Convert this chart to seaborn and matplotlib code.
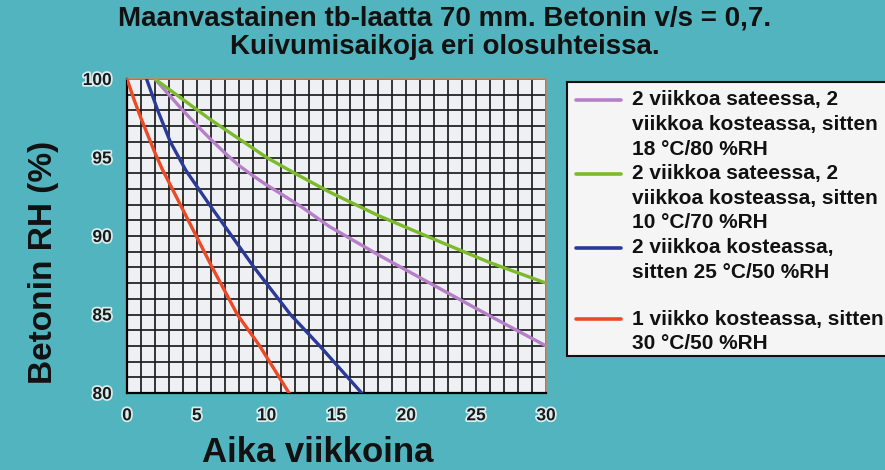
import matplotlib
matplotlib.use("Agg")
import matplotlib.pyplot as plt
import matplotlib.patheffects as pe
from matplotlib.lines import Line2D
from matplotlib.patches import Rectangle
import numpy as np
import pandas as pd
import seaborn as sns

# ---- data ----
purple_x = [2.0, 3.0, 4.0, 5.0, 6.0, 7.0, 8.0, 9.0, 10.0, 11.0, 12.5, 14.5, 18.0, 22.5, 26.0, 30.0]
purple_y = [100.0, 99.0, 98.0, 97.05, 96.15, 95.3, 94.5, 93.85, 93.25, 92.7, 91.85, 90.6, 88.8, 86.6, 84.9, 83.0]
green_x = [2.0, 4.0, 6.0, 8.0, 10.0, 12.0, 14.5, 18.0, 22.5, 26.0, 30.0]
green_y = [100.0, 98.7, 97.4, 96.2, 95.0, 94.0, 92.8, 91.3, 89.6, 88.3, 87.0]
blue_x = [1.4, 2.2, 3.1, 4.2, 5.9, 7.5, 9.1, 11.7, 13.8, 15.8, 16.8]
blue_y = [100.0, 98.0, 96.0, 94.2, 92.0, 90.0, 88.0, 85.0, 83.0, 81.0, 80.0]
red_x = [0.0, 0.5, 1.0, 1.5, 2.0, 2.5, 3.7, 4.9, 6.1, 7.9, 9.5, 10.9, 11.6]
red_y = [100.0, 98.7, 97.5, 96.4, 95.3, 94.3, 92.2, 90.1, 88.0, 85.0, 83.0, 81.0, 80.0]

series_labels = [
    ["2 viikkoa sateessa, 2", "viikkoa kosteassa, sitten", "18 °C/80 %RH"],
    ["2 viikkoa sateessa, 2", "viikkoa kosteassa, sitten", "10 °C/70 %RH"],
    ["2 viikkoa kosteassa,", "sitten 25 °C/50 %RH"],
    ["1 viikko kosteassa, sitten", "30 °C/50 %RH"],
]
x_ticks = [0, 5, 10, 15, 20, 25, 30]
y_ticks = [80, 85, 90, 95, 100]
title_lines = ["Maanvastainen tb-laatta 70 mm. Betonin v/s = 0,7.",
               "Kuivumisaikoja eri olosuhteissa."]
x_label = "Aika viikkoina"
y_label = "Betonin RH (%)"

colors = ["#b57fc9", "#7cba2c", "#2b3a98", "#ec4a26"]
TEAL = "#52b4bf"

sns.set_style("white")
plt.rcParams["font.family"] = ["Liberation Sans", "DejaVu Sans"]

frames = []
for i, (xs, ys) in enumerate([(purple_x, purple_y), (green_x, green_y),
                              (blue_x, blue_y), (red_x, red_y)]):
    frames.append(pd.DataFrame({"viikko": xs, "RH": ys, "sarja": i}))
df = pd.concat(frames, ignore_index=True)

W, H = 885, 470
fig = plt.figure(figsize=(W / 100, H / 100), dpi=100, facecolor=TEAL)
x0, x1, ytop, ybot = 127, 546, 79, 393
ax = fig.add_axes([x0 / W, 1 - ybot / H, (x1 - x0) / W, (ybot - ytop) / H])
ax.set_facecolor("#eef0f3")

sns.lineplot(data=df, x="viikko", y="RH", hue="sarja",
             palette={i: c for i, c in enumerate(colors)},
             sort=False, estimator=None, legend=False, lw=2.4, ax=ax, zorder=3)

ax.set_xlim(0, 30)
ax.set_ylim(80, 100)
ax.set_xticks(x_ticks)
ax.set_yticks(y_ticks)
ax.set_xticks(np.arange(0, 31, 1), minor=True)
ax.set_yticks(np.arange(80, 101, 1), minor=True)
ax.set_axisbelow(True)
ax.grid(which="both", color="#1c1c1c", lw=1.25)
ax.tick_params(which="minor", length=0)
ax.tick_params(which="major", length=5, width=1.5, color="black", direction="out", pad=6)
ax.set_xlabel("")
ax.set_ylabel("")
halo = [pe.withStroke(linewidth=2.5, foreground="#d9eef0")]
for lab in ax.get_xticklabels() + ax.get_yticklabels():
    lab.set_fontsize(12.5)
    lab.set_fontweight("bold")
    lab.set_color("#1a1a1a")
    lab.set_path_effects(halo)
for s in ["left", "bottom"]:
    ax.spines[s].set_color("black")
    ax.spines[s].set_linewidth(1.6)
for s in ["top", "right"]:
    ax.spines[s].set_color("#c08868")
    ax.spines[s].set_linewidth(1.2)

# titles and axis labels
fig.text(445 / W, 1 - 19 / H, title_lines[0], ha="center", va="center",
         fontsize=20, fontweight="bold", color="#111111")
fig.text(445 / W, 1 - 47 / H, title_lines[1], ha="center", va="center",
         fontsize=20, fontweight="bold", color="#111111")
fig.text(44 / W, 1 - 262 / H, y_label, rotation=90, ha="center", va="center",
         fontsize=24, fontweight="bold", color="#111111")
fig.text(318 / W, 1 - 462 / H, x_label, ha="center", va="baseline",
         fontsize=25, fontweight="bold", color="#111111")

# legend box
lx0, ly0, lx1, ly1 = 567, 82, 895, 356
fig.add_artist(Rectangle((lx0 / W, 1 - ly1 / H), (lx1 - lx0) / W, (ly1 - ly0) / H,
                         transform=fig.transFigure, facecolor="#f5f5f5",
                         edgecolor="#111111", lw=1.5, zorder=1))
first_line_y = [100, 174, 248, 319]
line_gap = 24.5
for c, lines, yy in zip(colors, series_labels, first_line_y):
    fig.add_artist(Line2D([576 / W, 621 / W], [1 - yy / H, 1 - yy / H],
                          transform=fig.transFigure, color=c, lw=2.6, zorder=2))
    for k, t in enumerate(lines):
        fig.text(632 / W, 1 - (yy + k * line_gap) / H, t, ha="left", va="center",
                 fontsize=15, fontweight="bold", color="#111111", zorder=3)

fig.savefig("out.png", dpi=100, facecolor=TEAL)
